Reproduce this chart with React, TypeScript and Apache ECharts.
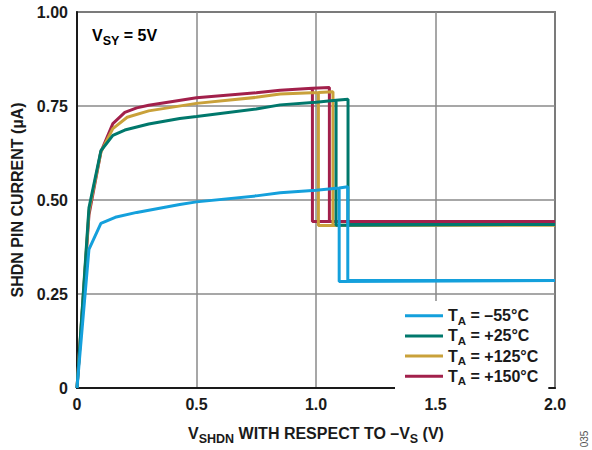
import React, { useEffect, useRef } from "react";
import * as echarts from "echarts";

// ---- data ----
const xTicks = [0, 0.5, 1.0, 1.5, 2.0];
const yTicks = [0, 0.25, 0.5, 0.75, 1.0];
const seriesNames = ["–55°C", "+25°C", "+125°C", "+150°C"];

const curveM55: [number, number][] = [
  [0, 0], [0.05, 0.369], [0.10, 0.438], [0.16, 0.454], [0.25, 0.467],
  [0.43, 0.488], [0.5, 0.495], [0.75, 0.511], [0.85, 0.519], [1.0, 0.526],
  [1.097, 0.532], [1.133, 0.535], [1.133, 0.286], [2.0, 0.286],
  [1.097, 0.283], [1.097, 0.532],
];
const curveP25: [number, number][] = [
  [0, 0], [0.05, 0.479], [0.10, 0.631], [0.15, 0.672], [0.2, 0.686],
  [0.3, 0.702], [0.43, 0.717], [0.5, 0.722], [0.75, 0.742], [0.85, 0.753],
  [1.0, 0.760], [1.084, 0.765], [1.134, 0.768], [1.134, 0.435], [2.0, 0.435],
  [1.084, 0.433], [1.084, 0.765],
];
const curveP125: [number, number][] = [
  [0, 0], [0.05, 0.47], [0.10, 0.628], [0.15, 0.690], [0.21, 0.720],
  [0.3, 0.737], [0.5, 0.757], [0.75, 0.773], [0.85, 0.782], [1.010, 0.786],
  [1.071, 0.788], [1.071, 0.433], [2.0, 0.433], [1.010, 0.432], [1.010, 0.786],
];
const curveP150: [number, number][] = [
  [0, 0], [0.05, 0.46], [0.10, 0.628], [0.15, 0.703], [0.20, 0.733],
  [0.25, 0.745], [0.3, 0.752], [0.5, 0.772], [0.75, 0.785], [0.85, 0.792],
  [0.985, 0.797], [1.056, 0.799], [1.056, 0.443], [2.0, 0.443],
  [0.985, 0.443], [0.985, 0.797],
];

// ---- styles ----
const COLORS = ["#14a0dc", "#00786c", "#c9a13a", "#a2204b"];
const FONT = "'Liberation Sans', Arial, Helvetica, sans-serif";
const TXT = "#1a1a1a";

const main = { fontSize: 16, fontWeight: "bold", fontFamily: FONT, color: TXT, lineHeight: 19 };
const sub = { fontSize: 12.5, fontWeight: "bold", fontFamily: FONT, color: TXT, lineHeight: 9, padding: [10, 0, 0, 0] };
const legendSub = { fontSize: 11.5, fontWeight: "bold", fontFamily: FONT, color: TXT, lineHeight: 9, padding: [9.7, 0, 0, 0] };

export default function App() {
  const ref = useRef<HTMLDivElement>(null);

  useEffect(() => {
    if (!ref.current) return;
    const chart = echarts.init(ref.current, null, { renderer: "svg" });
    const curves = [curveM55, curveP25, curveP125, curveP150];
    const order = [3, 2, 1, 0]; // draw blue on top
    const series = order.map((i) => ({
      name: seriesNames[i],
      type: "line",
      data: curves[i],
      color: COLORS[i],
      showSymbol: false,
      symbol: "none",
      lineStyle: { width: 3, color: COLORS[i] },
      z: 2 + (3 - i),
    }));

    chart.setOption({
      animation: false,
      backgroundColor: "#ffffff",
      grid: {
        left: 77,
        right: 37,
        top: 12,
        bottom: 58,
        show: true,
        borderColor: "#1a1a1a",
        borderWidth: 1.5,
        backgroundColor: "transparent",
      },
      xAxis: {
        type: "value",
        min: xTicks[0],
        max: xTicks[xTicks.length - 1],
        interval: 0.5,
        axisLine: { show: true, lineStyle: { color: "#1a1a1a", width: 2 } },
        axisTick: { show: false },
        splitLine: { show: true, lineStyle: { color: "#8a8a8a", width: 1.5 } },
        axisLabel: {
          margin: 8,
          fontSize: 16,
          fontWeight: "bold",
          fontFamily: FONT,
          color: TXT,
          formatter: (v: number) => (v === 0 ? "0" : v.toFixed(1)),
        },
        name: "{m|V}{s|SHDN}{m| WITH RESPECT TO –V}{s|S}{m| (V)}",
        nameLocation: "middle",
        nameGap: 36,
        nameTextStyle: { rich: { m: main, s: sub } },
      },
      yAxis: {
        type: "value",
        min: yTicks[0],
        max: yTicks[yTicks.length - 1],
        interval: 0.25,
        axisLine: { show: true, lineStyle: { color: "#1a1a1a", width: 2 } },
        axisTick: { show: false },
        splitLine: { show: true, lineStyle: { color: "#8a8a8a", width: 1.5 } },
        axisLabel: {
          margin: 9,
          fontSize: 16,
          fontWeight: "bold",
          fontFamily: FONT,
          color: TXT,
          formatter: (v: number) => (v === 0 ? "0" : v.toFixed(2)),
        },
        name: "{m|SHDN PIN CURRENT (µA)}",
        nameLocation: "middle",
        nameRotate: 90,
        nameGap: 50,
        nameTextStyle: { rich: { m: main } },
      },
      legend: {
        data: seriesNames,
        orient: "vertical",
        left: 395,
        top: 301,
        padding: [4, 10, 3, 10],
        itemGap: -1.6,
        itemWidth: 38,
        itemHeight: 3,
        icon: "rect",
        backgroundColor: "#ffffff",
        selectedMode: false,
        formatter: (name: string) => `{m|T}{s|A}{m| = ${name}}`,
        textStyle: { rich: { m: { ...main, lineHeight: 18.7 }, s: legendSub } },
      },
      graphic: [
        {
          type: "text",
          left: 92,
          top: 24,
          style: {
            text: "{m|V}{s|SY}{m| = 5V}",
            rich: { m: main, s: sub },
          },
        },
        {
          type: "text",
          x: 584,
          y: 439,
          rotation: Math.PI / 2,
          style: {
            text: "035",
            fontSize: 10,
            fontFamily: FONT,
            fill: "#555",
            align: "center",
            verticalAlign: "middle",
          },
        },
      ],
      series,
    });
    return () => chart.dispose();
  }, []);

  return <div ref={ref} style={{ width: 592, height: 450, position: "absolute", left: 0, top: 0 }} />;
}
